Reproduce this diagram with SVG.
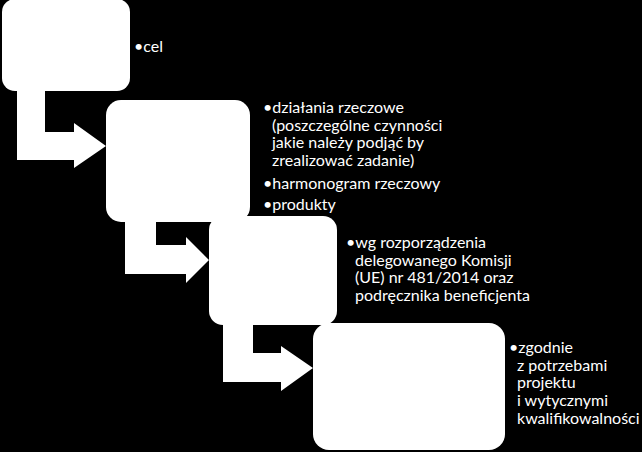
<svg xmlns="http://www.w3.org/2000/svg" width="642" height="452" viewBox="0 0 642 452">
<style>
.box{fill:#fff;stroke:none}
.arrow{fill:#fff;stroke:none}
text{font-family:Lato,"Liberation Sans",sans-serif;font-size:16px;fill:#fff}
</style>
<rect x="0" y="0" width="642" height="452" fill="#000"/>
<g id="connectors">
<polygon class="arrow" points="17,85 45,85 45,132 74,132 74,123 106,146 74,168 74,160 17,160"/>
<polygon class="arrow" points="125,215 156,215 156,245 186,245 186,237 209,260 186,283 186,274 125,274"/>
<polygon class="arrow" points="223,318 253,318 253,353 281,353 281,346 313,368 281,391 281,382 223,382"/>
</g>
<g id="node1">
<rect class="box" x="2" y="-1" width="128" height="92" rx="13"/>
<text x="134" y="52">•cel</text>
</g>
<g id="node2">
<rect class="box" x="106" y="100" width="144" height="122" rx="15"/>
<text y="113"><tspan x="263">•działania rzeczowe</tspan><tspan x="272" y="131">(poszczególne czynności</tspan><tspan x="272" y="148">jakie należy podjąć by</tspan><tspan x="272" y="166">zrealizować zadanie)</tspan></text>
<text x="263" y="189">•harmonogram rzeczowy</text>
<text x="263" y="210">•produkty</text>
</g>
<g id="node3">
<rect class="box" x="209" y="216" width="128" height="109" rx="14"/>
<text y="248"><tspan x="346">•wg rozporządzenia</tspan><tspan x="355" y="266">delegowanego Komisji</tspan><tspan x="355" y="283">(UE) nr 481/2014 oraz</tspan><tspan x="355" y="301">podręcznika beneficjenta</tspan></text>
</g>
<g id="node4">
<rect class="box" x="313" y="323" width="192" height="127" rx="16"/>
<text y="353"><tspan x="509">•zgodnie</tspan><tspan x="517" y="371">z potrzebami</tspan><tspan x="517" y="388">projektu</tspan><tspan x="517" y="406">i wytycznymi</tspan><tspan x="517" y="424">kwalifikowalności</tspan></text>
</g>
</svg>
